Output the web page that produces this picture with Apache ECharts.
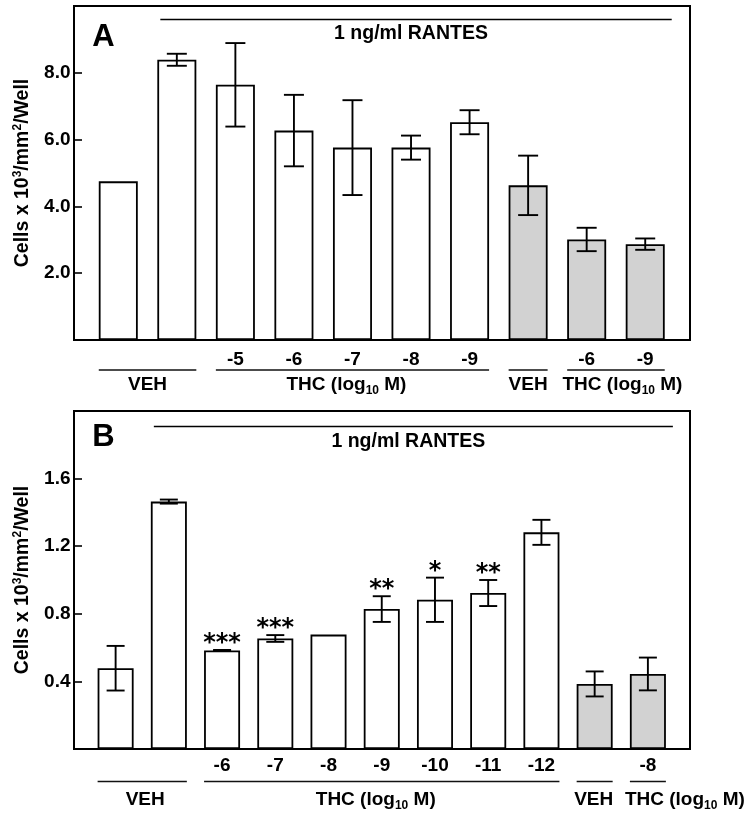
<!DOCTYPE html>
<html><head><meta charset="utf-8">
<script src="https://cdn.jsdelivr.net/npm/echarts@6/dist/echarts.min.js"></script>
<style>html,body{margin:0;padding:0;background:#fff}#c{width:753px;height:821px}</style>
</head><body><div id="c"></div>
<script>
// ---------------- DATA ----------------
// Panel A
const categoriesA = ['', '', '-5', '-6', '-7', '-8', '-9', '', '-6', '-9'];
const meansA = [4.75, 8.39, 7.64, 6.27, 5.76, 5.76, 6.52, 4.63, 3.01, 2.87];
const semA   = [0, 0.18, 1.25, 1.07, 1.42, 0.36, 0.36, 0.89, 0.35, 0.17];
const setA   = [1, 1, 1, 1, 1, 1, 1, 2, 2, 2];
const sigA   = ['', '', '', '', '', '', '', '', '', ''];
const groupsA = [
  {first: 0, last: 1, label: 'VEH'},
  {first: 2, last: 6, label: 'THC'},
  {first: 7, last: 7, label: 'VEH'},
  {first: 8, last: 9, label: 'THC'}
];
const yTicksA = [2, 4, 6, 8];
const yMaxA = 10;

// Panel B
const categoriesB = ['', '', '-6', '-7', '-8', '-9', '-10', '-11', '-12', '', '-8'];
const meansB = [0.478, 1.464, 0.583, 0.654, 0.677, 0.828, 0.883, 0.923, 1.282, 0.385, 0.444];
const semB   = [0.132, 0.012, 0.003, 0.020, 0, 0.076, 0.131, 0.077, 0.074, 0.074, 0.097];
const setB   = [1, 1, 1, 1, 1, 1, 1, 1, 1, 2, 2];
const sigB   = ['', '', '***', '***', '', '**', '*', '**', '', '', ''];
const groupsB = [
  {first: 0, last: 1, label: 'VEH'},
  {first: 2, last: 8, label: 'THC'},
  {first: 9, last: 9, label: 'VEH'},
  {first: 10, last: 10, label: 'THC'}
];
const yTicksB = [0.4, 0.8, 1.2, 1.6];
const yMaxB = 2.0;

const treatmentText = '1 ng/ml RANTES';
const panelLetters = ['A', 'B'];

// ---------------- STYLE / LAYOUT ----------------
const FONT = '"Liberation Sans", Arial, Helvetica, sans-serif';
const FS = 19;
const FRAME_LEFT = 74, FRAME_W = 616, INNER_LEFT = 89, INNER_W = 585.5;
const panels = [
  {cats: categoriesA, means: meansA, sem: semA, set: setA, sig: sigA, groups: groupsA,
   ticks: yTicksA, max: yMaxA, top: 6, height: 334, barW: 39, capW: 20,
   labelMargin: 10.5, lineDy: 30, textDy: 46, textShift: [0, -6, 0, 6.5],
   rantesDy: 13.5, rantesTextDy: 14.5, letterDy: 31},
  {cats: categoriesB, means: meansB, sem: semB, set: setB, sig: sigB, groups: groupsB,
   ticks: yTicksB, max: yMaxB, top: 411, height: 338, barW: 36, capW: 18,
   labelMargin: 7.5, lineDy: 32.5, textDy: 52, textShift: [3, -6, -1, 37],
   rantesDy: 15.5, rantesTextDy: 15.5, letterDy: 26}
];

const mainRich = {
  n:   {fontSize: FS, fontWeight: 'bold', fontFamily: FONT, color: '#000', lineHeight: 21, verticalAlign: 'top'},
  sub: {fontSize: 12, fontWeight: 'bold', fontFamily: FONT, color: '#000', lineHeight: 11, verticalAlign: 'bottom'}
};
const nameRich = {
  n:   {fontSize: 19.5, fontWeight: 'bold', fontFamily: FONT, color: '#000', lineHeight: 21, verticalAlign: 'bottom'},
  sup: {fontSize: 12, fontWeight: 'bold', fontFamily: FONT, color: '#000', lineHeight: 12, verticalAlign: 'top'}
};
function groupText(label) {
  if (label === 'THC') return '{n|THC (log}{sub|10}{n| M)}';
  return '{n|' + label + '}';
}

const chart = echarts.init(document.getElementById('c'));
const grids = [], xAxes = [], yAxes = [], series = [];

panels.forEach((p, k) => {
  grids.push({left: FRAME_LEFT, top: p.top, width: FRAME_W, height: p.height,
    show: true, borderColor: '#000', borderWidth: 2, backgroundColor: 'transparent',
    containLabel: false, outerBoundsMode: 'none'});
  grids.push({left: INNER_LEFT, top: p.top, width: INNER_W, height: p.height,
    containLabel: false, outerBoundsMode: 'none'});
  xAxes.push({gridIndex: 2 * k, type: 'value', min: 0, max: 1, show: false});
  xAxes.push({gridIndex: 2 * k + 1, type: 'category', data: p.cats,
    axisLine: {show: false}, axisTick: {show: false}, splitLine: {show: false},
    axisLabel: {interval: 0, margin: p.labelMargin, fontSize: FS, fontWeight: 'bold',
      fontFamily: FONT, color: '#000'}});
  yAxes.push({gridIndex: 2 * k, type: 'value', min: 0, max: p.max, interval: p.max / 5,
    splitLine: {show: false}, axisLine: {show: false},
    axisTick: {show: true, inside: true, length: 8, lineStyle: {color: '#000', width: 1.6}},
    axisLabel: {margin: 3.5, fontSize: FS, fontWeight: 'bold', fontFamily: FONT, color: '#000',
      formatter: v => p.ticks.some(t => Math.abs(t - v) < 1e-9) ? v.toFixed(1) : ''},
    name: '{n|Cells x 10}{sup|3}{n|/mm}{sup|2}{n|/Well}',
    nameLocation: 'middle', nameGap: 41, nameRotate: 90,
    nameTextStyle: {rich: nameRich}});
  yAxes.push({gridIndex: 2 * k + 1, type: 'value', min: 0, max: p.max, show: false});

  series.push({
    type: 'bar', xAxisIndex: 2 * k + 1, yAxisIndex: 2 * k + 1, barWidth: p.barW,
    z: 2, silent: true,
    data: p.means.map((v, i) => ({value: v,
      itemStyle: {color: p.set[i] === 2 ? '#d2d2d2' : '#ffffff', borderColor: '#000', borderWidth: 1.8}}))
  });
  series.push({
    type: 'custom', xAxisIndex: 2 * k + 1, yAxisIndex: 2 * k + 1, z: 3, silent: true,
    data: p.means.map((v, i) => [i, v, p.sem[i]]),
    renderItem: (params, api) => {
      const x = api.value(0), m = api.value(1), e = api.value(2);
      const children = [];
      const up = api.coord([x, m + e]);
      const lo = api.coord([x, m - e]);
      const hw = p.capW / 2;
      const st = {stroke: '#000', lineWidth: 1.9};
      if (e > 0) {
        children.push({type: 'line', shape: {x1: up[0], y1: up[1], x2: lo[0], y2: lo[1]}, style: st});
        children.push({type: 'line', shape: {x1: up[0] - hw, y1: up[1], x2: up[0] + hw, y2: up[1]}, style: st});
        children.push({type: 'line', shape: {x1: lo[0] - hw, y1: lo[1], x2: lo[0] + hw, y2: lo[1]}, style: st});
      }
      const s = p.sig[params.dataIndex];
      if (s) {
        children.push({type: 'text', style: {text: s, x: up[0], y: up[1] - 6,
          textAlign: 'center', textVerticalAlign: 'middle', align: 'center', verticalAlign: 'middle',
          fontSize: 24, fontWeight: 'bold', fontFamily: '"DejaVu Sans", sans-serif', fill: '#000'}});
      }
      return {type: 'group', children};
    }
  });
});

chart.setOption({
  animation: false,
  backgroundColor: '#fff',
  grid: grids, xAxis: xAxes, yAxis: yAxes, series: series
});

// annotations placed from the chart's own scales
const graphics = [];
panels.forEach((p, k) => {
  const xi = 2 * k + 1;
  const px = i => chart.convertToPixel({xAxisIndex: xi}, i);
  const y0 = chart.convertToPixel({yAxisIndex: xi}, 0);
  const yTop = chart.convertToPixel({yAxisIndex: xi}, p.max);
  const hb = p.barW / 2;
  p.groups.forEach((g, j) => {
    const x1 = px(g.first) - hb, x2 = px(g.last) + hb;
    graphics.push({type: 'line', silent: true, z: 10,
      shape: {x1: x1, y1: y0 + p.lineDy, x2: x2, y2: y0 + p.lineDy},
      style: {stroke: '#111', lineWidth: 1.3}});
    graphics.push({type: 'text', silent: true, z: 10,
      x: (x1 + x2) / 2 + p.textShift[j], y: y0 + p.textDy,
      style: {text: groupText(g.label), rich: mainRich, textAlign: 'center', textVerticalAlign: 'middle',
        align: 'center', verticalAlign: 'middle', fill: '#000'}});
  });
  // treatment bar across the stimulated columns
  const n = p.means.length;
  const rx1 = px(1) - hb + 3, rx2 = px(n - 1) + hb + 7;
  const ry = yTop + p.rantesDy;
  graphics.push({type: 'line', silent: true, z: 10,
    shape: {x1: rx1, y1: ry, x2: rx2, y2: ry}, style: {stroke: '#000', lineWidth: 1.7}});
  graphics.push({type: 'text', silent: true, z: 10,
    x: (rx1 + rx2) / 2 - 5, y: ry + p.rantesTextDy,
    style: {text: treatmentText, textAlign: 'center', textVerticalAlign: 'middle',
      align: 'center', verticalAlign: 'middle',
      fontSize: 19.5, fontWeight: 'bold', fontFamily: FONT, fill: '#000'}});
  graphics.push({type: 'text', silent: true, z: 10,
    x: FRAME_LEFT + 29.5, y: yTop + p.letterDy,
    style: {text: panelLetters[k], textAlign: 'center', textVerticalAlign: 'middle',
      align: 'center', verticalAlign: 'middle',
      fontSize: 31, fontWeight: 'bold', fontFamily: FONT, fill: '#000'}});
});
chart.setOption({graphic: graphics});
</script>
</body></html>
